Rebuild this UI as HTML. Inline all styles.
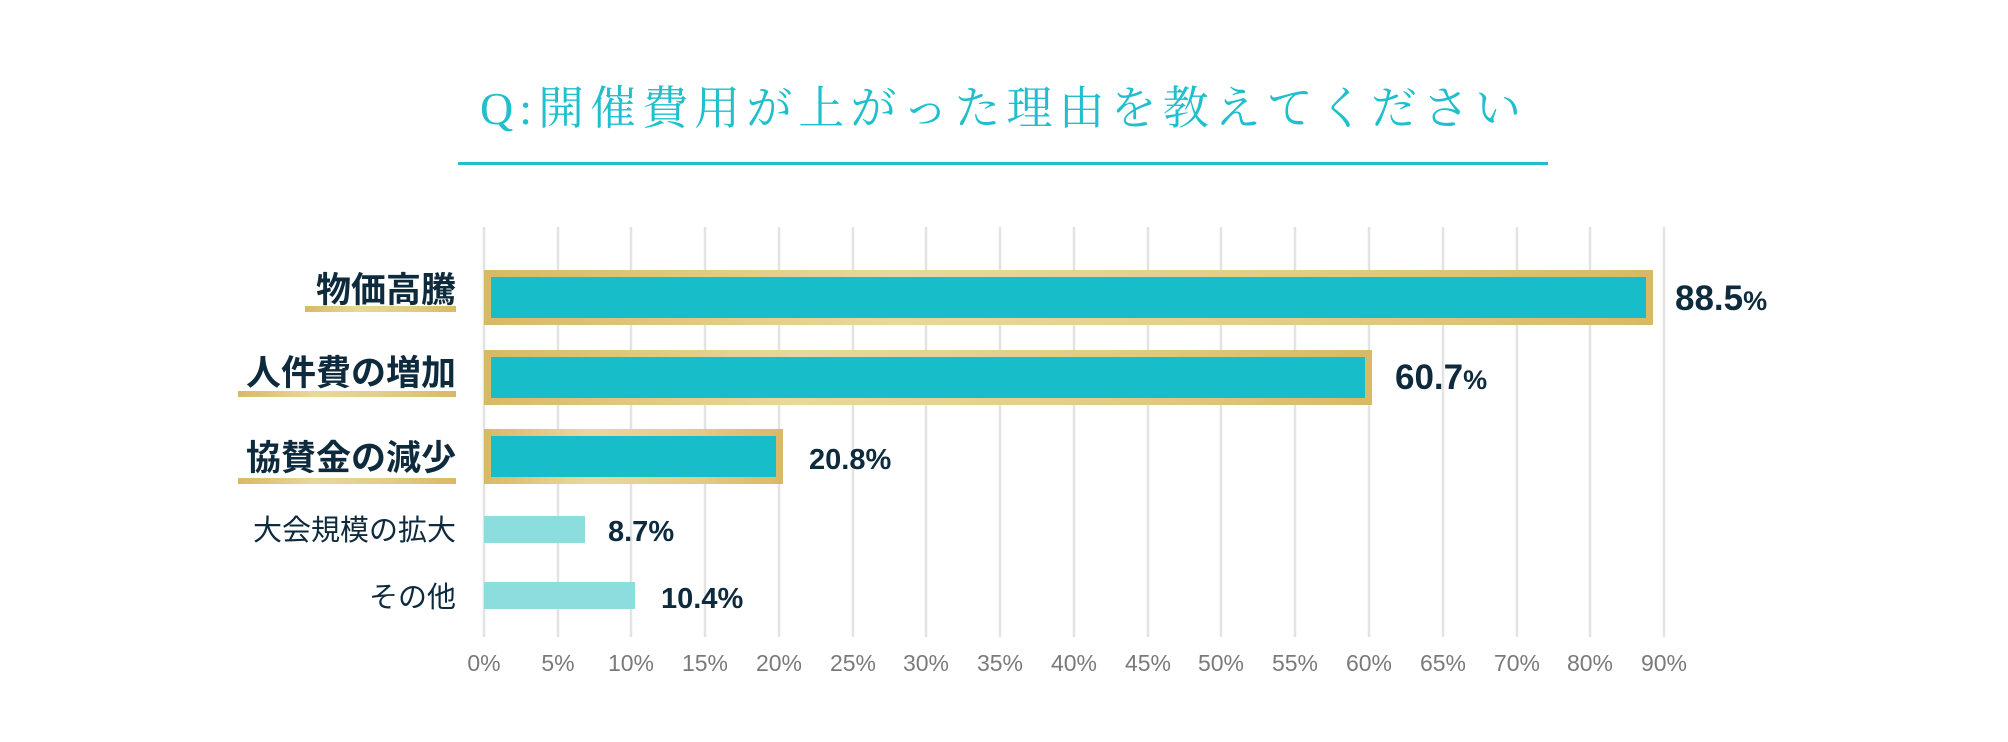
<!DOCTYPE html>
<html><head><meta charset="utf-8"><style>
html,body{margin:0;padding:0;background:#fff;}
svg{display:block;}
</style></head><body>
<svg width="2008" height="742" viewBox="0 0 2008 742" xmlns="http://www.w3.org/2000/svg">
<defs>
<linearGradient id="g" x1="0" x2="1" y1="0" y2="0">
<stop offset="0" stop-color="#d8b965"/><stop offset="0.35" stop-color="#e9d89c"/><stop offset="0.7" stop-color="#e2cc86"/><stop offset="1" stop-color="#d8b965"/>
</linearGradient>
</defs>
<text x="480" y="124" font-family="'Liberation Serif','Noto Serif CJK SC',serif" font-size="46" fill="#1fbfcc" textLength="1041" lengthAdjust="spacing">Q:開催費用が上がった理由を教えてください</text>
<rect x="458" y="162" width="1090" height="3" fill="#1fbfcc"/>
<g stroke="#e3e3e3" stroke-width="2.5">
<line x1="484" y1="227" x2="484" y2="637"/><line x1="558" y1="227" x2="558" y2="637"/><line x1="631" y1="227" x2="631" y2="637"/><line x1="705" y1="227" x2="705" y2="637"/><line x1="779" y1="227" x2="779" y2="637"/><line x1="853" y1="227" x2="853" y2="637"/><line x1="926" y1="227" x2="926" y2="637"/><line x1="1000" y1="227" x2="1000" y2="637"/><line x1="1074" y1="227" x2="1074" y2="637"/><line x1="1148" y1="227" x2="1148" y2="637"/><line x1="1221" y1="227" x2="1221" y2="637"/><line x1="1295" y1="227" x2="1295" y2="637"/><line x1="1369" y1="227" x2="1369" y2="637"/><line x1="1443" y1="227" x2="1443" y2="637"/><line x1="1517" y1="227" x2="1517" y2="637"/><line x1="1590" y1="227" x2="1590" y2="637"/><line x1="1664" y1="227" x2="1664" y2="637"/>
</g>
<g font-family="'Liberation Sans','Noto Sans CJK JP',sans-serif" font-size="23" fill="#7a7a7a" text-anchor="middle">
<text x="484" y="671">0%</text><text x="558" y="671">5%</text><text x="631" y="671">10%</text><text x="705" y="671">15%</text><text x="779" y="671">20%</text><text x="853" y="671">25%</text><text x="926" y="671">30%</text><text x="1000" y="671">35%</text><text x="1074" y="671">40%</text><text x="1148" y="671">45%</text><text x="1221" y="671">50%</text><text x="1295" y="671">55%</text><text x="1369" y="671">60%</text><text x="1443" y="671">65%</text><text x="1517" y="671">70%</text><text x="1590" y="671">80%</text><text x="1664" y="671">90%</text>
</g>
<rect x="484" y="270" width="1169" height="55" fill="url(#g)"/><rect x="491" y="277" width="1155" height="41" fill="#17bdc9"/>
<rect x="484" y="350" width="888" height="55" fill="url(#g)"/><rect x="491" y="357" width="874" height="41" fill="#17bdc9"/>
<rect x="484" y="429" width="299" height="55" fill="url(#g)"/><rect x="491" y="436" width="285" height="41" fill="#17bdc9"/>
<rect x="484" y="516" width="101" height="27" fill="#8cdede"/>
<rect x="484" y="582" width="151" height="27" fill="#8cdede"/>
<rect x="305" y="306" width="151" height="6" fill="url(#g)"/>
<rect x="238" y="391" width="218" height="6" fill="url(#g)"/>
<rect x="238" y="478" width="218" height="6" fill="url(#g)"/>
<g font-family="'Liberation Sans','Noto Sans CJK JP',sans-serif" fill="#0e2a3d" text-anchor="end">
<text x="456" y="302" font-size="35" font-weight="bold">物価高騰</text>
<text x="456" y="385" font-size="35" font-weight="bold">人件費の増加</text>
<text x="456" y="470" font-size="35" font-weight="bold">協賛金の減少</text>
<text x="456" y="540" font-size="29">大会規模の拡大</text>
<text x="456" y="607" font-size="29">その他</text>
</g>
<g font-family="'Liberation Sans',sans-serif" fill="#0e2a3d" font-weight="bold">
<text x="1675" y="310" font-size="35">88.5<tspan font-size="27">%</tspan></text>
<text x="1395" y="389" font-size="35">60.7<tspan font-size="27">%</tspan></text>
<text x="809" y="469" font-size="29">20.8%</text>
<text x="608" y="541" font-size="29">8.7%</text>
<text x="661" y="608" font-size="29">10.4%</text>
</g>
</svg>
</body></html>
